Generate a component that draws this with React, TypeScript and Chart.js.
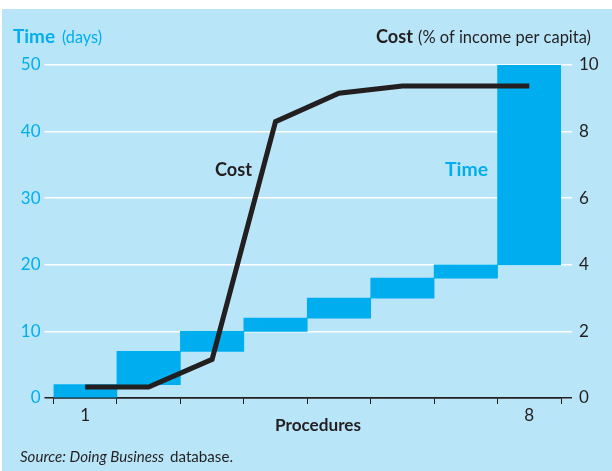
import React, { useEffect, useRef } from "react";
import { Chart, registerables } from "chart.js";

Chart.register(...registerables);

// ---- data ----
const procedures = ["1", "2", "3", "4", "5", "6", "7", "8"];
const tickShown = ["1", "", "", "", "", "", "", "8"];
const timeStart = [0, 2, 7, 10, 12, 15, 18, 20];
const timeEnd = [2, 7, 10, 12, 15, 18, 20, 50];
const costValues = [0.33, 0.33, 1.16, 8.3, 9.15, 9.37, 9.37, 9.37];
const timeTicks = [0, 10, 20, 30, 40, 50];
const costTicks = [0, 2, 4, 6, 8, 10];

const CYAN = "#00AEEF";
const BG = "#B9E5F8";
const DARK = "#231F20";
const FONT = "Lato, 'Open Sans', sans-serif";

function fitText(
  ctx: CanvasRenderingContext2D,
  text: string,
  x: number,
  y: number,
  font: string,
  color: string,
  width: number
) {
  ctx.save();
  ctx.font = font;
  ctx.fillStyle = color;
  ctx.textBaseline = "alphabetic";
  ctx.textAlign = "left";
  const w = ctx.measureText(text).width;
  const s = w > 0 ? width / w : 1;
  ctx.translate(x, y);
  ctx.scale(s, 1);
  ctx.fillText(text, 0, 0);
  ctx.restore();
}

const decor = {
  id: "decor",
  beforeDraw(chart: any) {
    const ctx = chart.ctx as CanvasRenderingContext2D;
    ctx.save();
    ctx.fillStyle = "#ffffff";
    ctx.fillRect(0, 0, chart.width, chart.height);
    ctx.fillStyle = BG;
    ctx.fillRect(2, 9, chart.width - 2, chart.height - 9);
    ctx.restore();
  },
  afterDraw(chart: any) {
    const ctx = chart.ctx as CanvasRenderingContext2D;
    fitText(ctx, "Time", 13, 43, `bold 19px ${FONT}`, CYAN, 42);
    fitText(ctx, "(days)", 62, 43, `17px ${FONT}`, CYAN, 40);
    fitText(ctx, "Cost", 376, 43, `bold 19px ${FONT}`, DARK, 37);
    fitText(ctx, "(% of income per capita)", 418, 43, `17px ${FONT}`, DARK, 173);
    fitText(ctx, "Cost", 215, 176, `bold 19px ${FONT}`, DARK, 37);
    fitText(ctx, "Time", 445, 176, `bold 19px ${FONT}`, CYAN, 43);
    fitText(ctx, "Procedures", 275, 431, `bold 17px ${FONT}`, DARK, 86);
    fitText(ctx, "Source: Doing Business", 20, 462, `italic 16px ${FONT}`, DARK, 144);
    fitText(ctx, "database.", 170, 462, `16px ${FONT}`, DARK, 63);
  },
};

export default function App() {
  const ref = useRef<HTMLCanvasElement | null>(null);
  useEffect(() => {
    if (!ref.current) return;
    const chart = new Chart(ref.current, {
      type: "bar",
      data: {
        labels: procedures,
        datasets: [
          {
            type: "line",
            label: "Cost",
            data: costValues,
            yAxisID: "y2",
            borderColor: DARK,
            borderWidth: 5,
            pointRadius: 0,
            tension: 0,
            borderCapStyle: "butt",
            borderJoinStyle: "miter",
            order: 0,
          } as any,
          {
            type: "bar",
            label: "Time",
            data: timeStart.map((s, i) => [s, timeEnd[i]]),
            yAxisID: "y",
            backgroundColor: CYAN,
            borderWidth: 0,
            barPercentage: 1,
            categoryPercentage: 1,
            order: 1,
          } as any,
        ],
      },
      options: {
        responsive: false,
        animation: false,
        layout: { padding: { top: 65, left: 0, right: 0, bottom: 0 } },
        plugins: {
          legend: { display: false },
          tooltip: { enabled: false },
        },
        scales: {
          x: {
            z: 1,
            offset: true,
            afterFit: (s: any) => {
              s.height = 73;
            },
            grid: {
              offset: true,
              drawOnChartArea: false,
              drawTicks: true,
              tickLength: 6,
              color: DARK,
              lineWidth: 1,
            },
            border: { display: true, color: DARK, width: 1.5 },
            ticks: {
              color: DARK,
              font: { family: FONT, size: 17 },
              padding: 1,
              maxRotation: 0,
              autoSkip: false,
              callback: (_v: any, i: number) => tickShown[i],
            },
          },
          y: {
            position: "left",
            min: timeTicks[0],
            max: timeTicks[timeTicks.length - 1],
            afterFit: (s: any) => {
              s.width = 53.5;
            },
            afterBuildTicks: (s: any) => {
              s.ticks = timeTicks.map((v) => ({ value: v }));
            },
            border: { display: false },
            grid: {
              color: (c: any) => (c.tick && c.tick.value === 0 ? DARK : "#ffffff"),
              lineWidth: 1.5,
              tickLength: 9,
            },
            ticks: {
              color: CYAN,
              font: { family: FONT, size: 17 },
              padding: 4,
            },
          },
          y2: {
            position: "right",
            min: costTicks[0],
            max: costTicks[costTicks.length - 1],
            afterFit: (s: any) => {
              s.width = 51;
            },
            afterBuildTicks: (s: any) => {
              s.ticks = costTicks.map((v) => ({ value: v }));
            },
            border: { display: false },
            grid: {
              drawOnChartArea: false,
              color: (c: any) => (c.tick && c.tick.value === 0 ? DARK : "#ffffff"),
              lineWidth: 1.5,
              tickLength: 11,
            },
            ticks: {
              color: DARK,
              font: { family: FONT, size: 17 },
              padding: 7,
            },
          },
        },
      } as any,
      plugins: [decor],
    });
    return () => chart.destroy();
  }, []);
  return (
    <div style={{ position: "absolute", left: 0, top: 0, width: 612, height: 471 }}>
      <canvas ref={ref} width={612} height={471} style={{ display: "block" }} />
    </div>
  );
}
